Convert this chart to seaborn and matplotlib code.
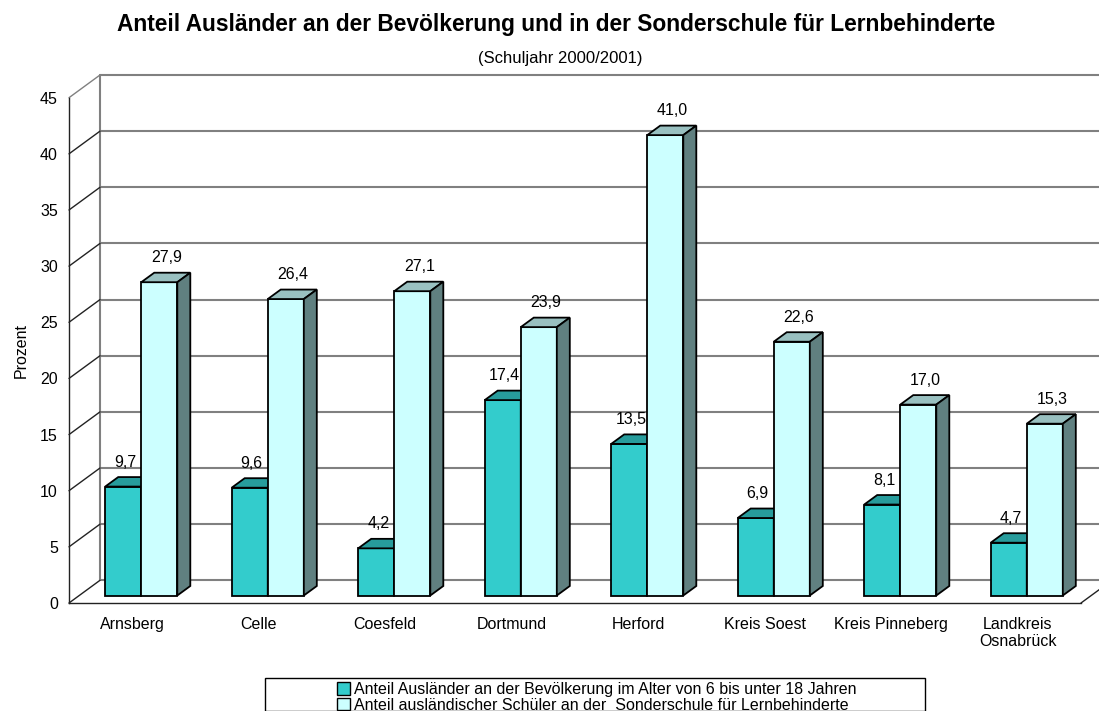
import numpy as np
import pandas as pd
import seaborn as sns
import matplotlib.pyplot as plt
from matplotlib.patches import Polygon, Rectangle, Patch
from matplotlib.transforms import IdentityTransform, offset_copy

# Daten (Schuljahr 2000/2001)
regionen = ['Arnsberg', 'Celle', 'Coesfeld', 'Dortmund', 'Herford',
            'Kreis Soest', 'Kreis Pinneberg', 'Landkreis\nOsnabrück']
anteil_bevoelkerung = [9.7, 9.6, 4.2, 17.4, 13.5, 6.9, 8.1, 4.7]
anteil_sonderschule = [27.9, 26.4, 27.1, 23.9, 41.0, 22.6, 17.0, 15.3]
serien = ['Anteil Ausländer an der Bevölkerung im Alter von 6 bis unter 18 Jahren',
          'Anteil ausländischer Schüler an der  Sonderschule für Lernbehinderte']
y_ticks = [0, 5, 10, 15, 20, 25, 30, 35, 40, 45]

df = pd.DataFrame({
    'Region': regionen * 2,
    'Prozent': anteil_bevoelkerung + anteil_sonderschule,
    'Serie': [serien[0]] * len(regionen) + [serien[1]] * len(regionen),
})

# Excel-like colours: front, top, side
farben = {
    serien[0]: ('#33CCCC', '#279C9C', '#1F6F6F'),
    serien[1]: ('#CCFFFF', '#99C0C0', '#608080'),
}

sns.set_theme(style='white')
plt.rcParams['font.family'] = ['Liberation Sans', 'DejaVu Sans']
plt.rcParams.update({'text.color': 'black', 'axes.labelcolor': 'black',
                     'xtick.color': 'black', 'ytick.color': 'black'})

fig = plt.figure(figsize=(10.99, 7.11), dpi=100)
W, H = 1099, 711
ax = fig.add_axes([69 / W, (H - 603) / H, 1012 / W, (603 - 97.7) / H])

sns.barplot(data=df, x='Region', y='Prozent', hue='Serie',
            palette=[farben[s][0] for s in serien], saturation=1,
            width=0.57, edgecolor='black', linewidth=1.3,
            legend=False, ax=ax)

ax.set_xlim(-0.5, len(regionen) - 0.5)
ax.set_ylim(0, 45)
ax.set_yticks(y_ticks)
ax.set_xlabel('')
ax.set_ylabel('Prozent', fontsize=11.5, labelpad=8)
ax.set_facecolor('none')

# pseudo 3d offsets in pixels
FRONT = np.array([9.0, 7.5])
DEPTH = np.array([13.0, 9.5])
WALL = np.array([31.0, 22.7])


def px(x, y, shift=(0, 0)):
    return ax.transData.transform((x, y)) + np.asarray(shift)


ident = IdentityTransform()
x_lo, x_hi = -0.5, len(regionen) - 0.5

# back wall + side wall
for v in y_ticks:
    a, b = px(x_lo, v, WALL), px(x_hi, v, WALL)
    ax.plot([a[0], b[0]], [a[1], b[1]], color='#808080', lw=1.5,
            transform=ident, clip_on=False, zorder=0.5)
    c = px(x_lo, v)
    ax.plot([c[0], a[0]], [c[1], a[1]], color='#808080' if v == 45 else '#222222',
            lw=1.0, transform=ident, clip_on=False, zorder=0.6)
a, b = px(x_lo, 0, WALL), px(x_lo, 45, WALL)
ax.plot([a[0], b[0]], [a[1], b[1]], color='#808080', lw=1.5,
        transform=ident, clip_on=False, zorder=0.5)
c, d = px(x_hi, 0), px(x_hi, 0, WALL)
ax.plot([c[0], d[0]], [c[1], d[1]], color='#222222', lw=1.0,
        transform=ident, clip_on=False, zorder=0.6)

# bars: shift front faces and add top / side faces
bars = list(ax.patches)
n = len(regionen)
label_dx = [2, 7]
front_shift = offset_copy(ax.transData, fig=fig, x=FRONT[0], y=FRONT[1], units='dots')
for k, bar in enumerate(bars):
    j, i = divmod(k, n)
    _, top_col, side_col = farben[serien[j]]
    z = 2 + i * 0.1 + j * 0.05
    bar.set_transform(front_shift)
    bar.set_zorder(z)
    bar.set_clip_on(False)
    x0, w, h = bar.get_x(), bar.get_width(), bar.get_height()
    lt, rt, rb = px(x0, h, FRONT), px(x0 + w, h, FRONT), px(x0 + w, 0, FRONT)
    top = Polygon([lt, rt, rt + DEPTH, lt + DEPTH], closed=True, facecolor=top_col,
                  edgecolor='black', lw=1.3, transform=ident, clip_on=False, zorder=z + 0.01)
    side = Polygon([rb, rt, rt + DEPTH, rb + DEPTH], closed=True, facecolor=side_col,
                   edgecolor='black', lw=1.3, transform=ident, clip_on=False, zorder=z + 0.01)
    ax.add_patch(top)
    ax.add_patch(side)
    ax.annotate(f'{h:.1f}'.replace('.', ','), xy=(x0 + w / 2, h),
                xytext=(FRONT[0] + label_dx[j], FRONT[1] + 20), textcoords='offset pixels',
                ha='center', va='baseline', fontsize=11.5, zorder=5)

# axes / ticks
for s in ['top', 'right']:
    ax.spines[s].set_visible(False)
for s in ['left', 'bottom']:
    ax.spines[s].set_color('#222222')
    ax.spines[s].set_linewidth(1.0)
ax.set_xticks(np.arange(-0.5, n, 1.0), minor=True)
ax.tick_params(axis='x', which='minor', length=6.5, width=1, color='#222222', direction='out')
ax.tick_params(axis='x', which='major', length=0, pad=10, labelsize=11.5)
ax.tick_params(axis='y', length=6, width=1, color='#222222', direction='out', pad=2, labelsize=11.5)

# titles
fig.text(556 / W, 1 - 25 / H, 'Anteil Ausländer an der Bevölkerung und in der Sonderschule für Lernbehinderte',
         ha='center', va='center', fontsize=16.4, fontweight='bold')
fig.text(560 / W, 1 - 58 / H, '(Schuljahr 2000/2001)', ha='center', va='center', fontsize=12)

# legend
fig.add_artist(Rectangle((265, 0), 660, H - 678, transform=ident, facecolor='white',
                         edgecolor='black', lw=1.0, zorder=1))
handles = [Patch(facecolor=farben[s][0], edgecolor='black', lw=1.0) for s in serien]
fig.legend(handles, serien, loc='upper left', bbox_to_anchor=(337 / W, 1 - 682 / H),
           frameon=False, borderpad=0, borderaxespad=0, fontsize=11.5,
           handlelength=0.8, handleheight=0.8, handletextpad=0.25, labelspacing=0.05)

fig.savefig('out.png', dpi=100)
